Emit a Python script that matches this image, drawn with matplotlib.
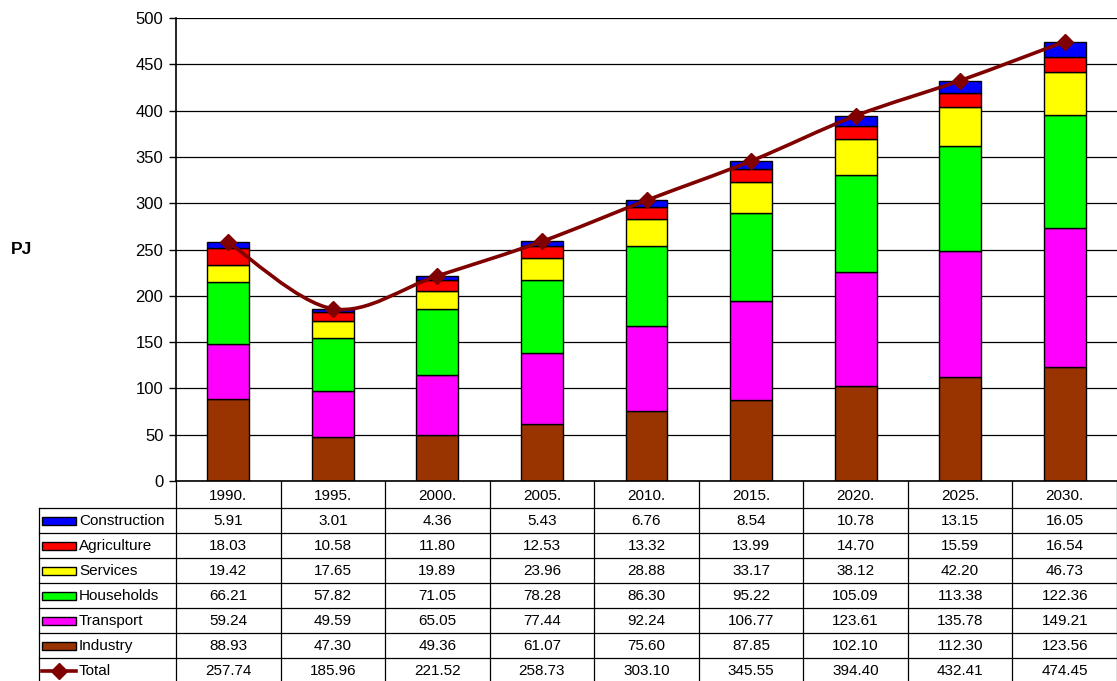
import numpy as np
import matplotlib
matplotlib.use("Agg")
import matplotlib.pyplot as plt
from matplotlib.path import Path
from matplotlib.patches import PathPatch, Rectangle
from matplotlib.lines import Line2D

plt.rcParams["font.family"] = ["Liberation Sans", "DejaVu Sans"]

years = ["1990.", "1995.", "2000.", "2005.", "2010.", "2015.", "2020.", "2025.", "2030."]
industry = [88.93, 47.30, 49.36, 61.07, 75.60, 87.85, 102.10, 112.30, 123.56]
transport = [59.24, 49.59, 65.05, 77.44, 92.24, 106.77, 123.61, 135.78, 149.21]
households = [66.21, 57.82, 71.05, 78.28, 86.30, 95.22, 105.09, 113.38, 122.36]
services = [19.42, 17.65, 19.89, 23.96, 28.88, 33.17, 38.12, 42.20, 46.73]
agriculture = [18.03, 10.58, 11.80, 12.53, 13.32, 13.99, 14.70, 15.59, 16.54]
construction = [5.91, 3.01, 4.36, 5.43, 6.76, 8.54, 10.78, 13.15, 16.05]
total = [257.74, 185.96, 221.52, 258.73, 303.10, 345.55, 394.40, 432.41, 474.45]

# stacking order bottom -> top
series = [
    ("Industry", industry, "#993300"),
    ("Transport", transport, "#FF00FF"),
    ("Households", households, "#00FF00"),
    ("Services", services, "#FFFF00"),
    ("Agriculture", agriculture, "#FF0000"),
    ("Construction", construction, "#0000FF"),
]
LINE_COL = "#800000"

W, H = 1117, 681
fig = plt.figure(figsize=(W / 100, H / 100), dpi=100, facecolor="white")
left = 176 / W
bottom = 1 - 481 / H
top = 1 - 18 / H
ax = fig.add_axes([left, bottom, 1 - left, top - bottom])

x = np.arange(len(years))
base = np.zeros(len(years))
for name, vals, col in series:
    ax.bar(x, vals, 0.4, bottom=base, color=col, edgecolor="black", linewidth=1.0, zorder=2)
    base += np.array(vals)

# smoothed total line (Catmull-Rom style bezier through the points)
pts = np.column_stack([x, total]).astype(float)
ext = np.vstack([pts[0], pts, pts[-1]])
verts = [tuple(pts[0])]
codes = [Path.MOVETO]
for i in range(1, len(ext) - 2):
    p0, p1, p2, p3 = ext[i - 1], ext[i], ext[i + 1], ext[i + 2]
    c1 = p1 + (p2 - p0) / 6
    c2 = p2 - (p3 - p1) / 6
    verts += [tuple(c1), tuple(c2), tuple(p2)]
    codes += [Path.CURVE4] * 3
ax.add_patch(PathPatch(Path(verts, codes), facecolor="none", edgecolor=LINE_COL, lw=2.6, zorder=3))
ax.plot(x, total, ls="none", marker="D", ms=8.5, color=LINE_COL, zorder=4)

ax.set_xlim(-0.5, len(years) - 0.5)
ax.set_ylim(0, 500)
ax.set_yticks(np.arange(0, 501, 50))
ax.tick_params(axis="y", labelsize=12, length=5, width=1, direction="out", pad=4)
ax.set_xticks([])
ax.grid(axis="y", color="black", lw=0.9, zorder=0)
ax.set_axisbelow(True)
for s in ["top", "right"]:
    ax.spines[s].set_visible(False)
ax.spines["left"].set_linewidth(1.2)
ax.spines["bottom"].set_linewidth(1.2)
fig.text(22 / W, 1 - 250 / H, "PJ", fontsize=12.5, fontweight="bold", ha="center", va="center")

# data table under the chart
tax = fig.add_axes([left, 0, 1 - left, bottom], sharex=ax)
tax.set_ylim(200, 0)
tax.axis("off")
label_x0 = -0.5 - 137 / 104.6
row0, rowh = 27, 25
rows = [("Construction", construction, "#0000FF"), ("Agriculture", agriculture, "#FF0000"),
        ("Services", services, "#FFFF00"), ("Households", households, "#00FF00"),
        ("Transport", transport, "#FF00FF"), ("Industry", industry, "#993300"),
        ("Total", total, None)]
lkw = dict(color="black", lw=0.9, clip_on=False)
n = len(years)
for i in range(n + 1):
    tax.plot([i - 0.5, i - 0.5], [0, 200], **lkw)
tax.plot([label_x0, label_x0], [row0, 200], **lkw)
for k in range(len(rows)):
    y = row0 + k * rowh
    tax.plot([label_x0, n - 0.5], [y, y], **lkw)
for i, yr in enumerate(years):
    tax.text(i, row0 / 2 + 1, yr, ha="center", va="center", fontsize=11)
cu = 1 / 104.6
for k, (name, vals, col) in enumerate(rows):
    yc = row0 + k * rowh + rowh / 2 + 0.5
    for i, v in enumerate(vals):
        tax.text(i, yc, f"{v:.2f}", ha="center", va="center", fontsize=11)
    kx0 = label_x0 + 3 * cu
    kx1 = label_x0 + 37 * cu
    if col is not None:
        tax.add_patch(Rectangle((kx0, yc - 4), kx1 - kx0, 8, facecolor=col, edgecolor="black",
                                lw=1.0, clip_on=False))
    else:
        tax.add_line(Line2D([kx0, kx1], [yc, yc], color=LINE_COL, lw=2.6, clip_on=False))
        tax.plot([(kx0 + kx1) / 2], [yc], marker="D", ms=8.5, color=LINE_COL, clip_on=False)
    tax.text(kx1 + 3 * cu, yc, name, ha="left", va="center", fontsize=11)

fig.savefig("out.png", dpi=100, facecolor="white")
